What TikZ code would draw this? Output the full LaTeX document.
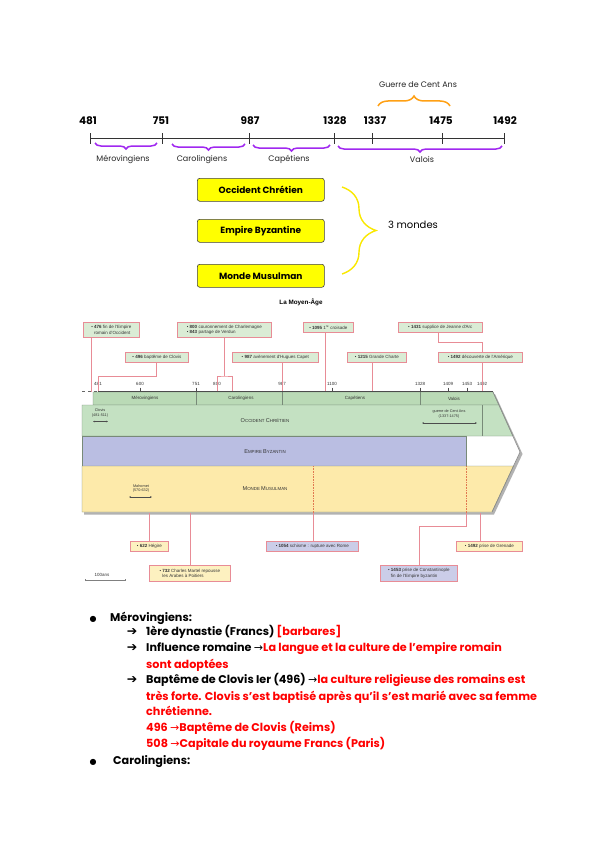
\documentclass[tikz,border=0pt]{standalone}
\usepackage{fontspec}
\setmainfont{Poppins}
\newfontfamily\arialf{Liberation Sans}
\newfontfamily\dejavu{DejaVu Sans}
\usetikzlibrary{decorations.pathreplacing,calc,arrows.meta}
\definecolor{purpleB}{RGB}{160,40,240}
\definecolor{orangeB}{RGB}{255,160,20}
\definecolor{yelB}{RGB}{255,255,0}
\definecolor{yelBr}{RGB}{250,232,0}
\definecolor{bandG}{RGB}{196,225,194}
\definecolor{rowG}{RGB}{186,218,182}
\definecolor{bandP}{RGB}{186,190,226}
\definecolor{bandY}{RGB}{253,234,170}
\definecolor{callG}{RGB}{218,236,213}
\definecolor{callP}{RGB}{203,205,232}
\definecolor{callY}{RGB}{253,241,192}
\definecolor{pinkL}{RGB}{232,140,150}
\definecolor{edgeG}{RGB}{120,138,120}
\definecolor{redT}{RGB}{255,0,0}
\definecolor{dotO}{RGB}{225,120,80}
\newcommand{\rd}[1]{\textcolor{redT}{#1}}
\newcommand{\scx}[2]{{\fontsize{5.6}{6}\selectfont #1}{\fontsize{4.4}{6}\selectfont #2}}
\newcommand{\tarr}{{\dejavu\mdseries\fontsize{11}{12}\selectfont →}}
\begin{document}
\begin{tikzpicture}[x=1pt,y=-1pt,
  datef/.style={font=\fontsize{10.5}{12}\selectfont\bfseries, inner sep=0pt},
  dynf/.style={font=\fontsize{8}{10}\selectfont, inner sep=0pt, text=black!85},
  ybox/.style={draw=black!75, fill=yelB, rounded corners=2.5pt, line width=0.6pt, minimum width=127pt, minimum height=23pt, font=\fontsize{9}{11}\selectfont\bfseries, inner sep=0pt, anchor=north west},
  pbrace/.style={draw=purpleB, line width=1.5pt, decorate, decoration={brace, mirror, amplitude=6pt}},
  obrace/.style={draw=orangeB, line width=1.5pt, decorate, decoration={brace, amplitude=10pt}},
  ybrace/.style={draw=yelBr, line width=1.4pt, decorate, decoration={brace, amplitude=34pt}},
  chf/.style={font=\arialf\fontsize{4.5}{5.2}\selectfont, inner sep=0pt, text=black!80},
  callout/.style={draw=pinkL, line width=0.7pt, inner sep=0.6pt, anchor=north west, font=\arialf\fontsize{4.5}{5.4}\selectfont, align=left, text=black!80},
  cg/.style={callout, fill=callG},
  cp/.style={callout, fill=callP},
  cy/.style={callout, fill=callY},
  pl/.style={draw=pinkL, line width=0.7pt},
  dl/.style={draw=dotO, line width=0.6pt, densely dotted},
  btxt/.style={anchor=base west, inner sep=0pt, font=\fontsize{11.2}{13}\selectfont\bfseries},
  barr/.style={anchor=base, inner sep=0pt, font=\dejavu\bfseries\fontsize{12.5}{13}\selectfont},
  bbul/.style={anchor=base, inner sep=0pt, font=\dejavu\fontsize{8}{9}\selectfont},
  >={Stealth[length=2pt,width=1.6pt]}
]
\useasboundingbox (0,0) rectangle (600,848);
\fill[white] (0,0) rectangle (600,848);

% ---------------- top timeline ----------------
\coordinate (t481) at (90,138);
\coordinate (t751) at (162,138);
\coordinate (t987) at (249,138);
\coordinate (t1328) at (334,138);
\coordinate (t1337) at (372,138);
\coordinate (t1475) at (442,138);
\coordinate (t1492) at (504,138);
\draw[line width=0.7pt, black!80] (t481) -- (t1492);
\foreach \c in {t481,t751,t987,t1328,t1337,t1475,t1492}
  \draw[line width=0.7pt, black!80] ($(\c)+(0,-5)$) -- ($(\c)+(0,6)$);
\node[datef] (d481) at (88,121) {481};
\node[datef] (d751) at (161,121) {751};
\node[datef] (d987) at (250,121) {987};
\node[datef] (d1328) at (335,121) {1328};
\node[datef] (d1337) at (375,121) {1337};
\node[datef] (d1475) at (441,121) {1475};
\node[datef] (d1492) at (505,121) {1492};

\draw[pbrace] (95,143) -- (157,143);
\draw[pbrace] (172,144) -- (245,144);
\draw[pbrace] (253,145) -- (330,145);
\draw[pbrace] (338,146) -- (502,146);
\node[dynf] (lmer) at (123,159.5) {Mérovingiens};
\node[dynf] (lcar) at (202,159.5) {Carolingiens};
\node[dynf] (lcap) at (289,159.5) {Capétiens};
\node[dynf] (lval) at (422,159.5) {Valois};

\draw[obrace] (378,106) -- (450,106);
\node[dynf] (gcent) at (418,85) {Guerre de Cent Ans};

% ---------------- yellow boxes ----------------
\node[ybox] (ocb) at (197,178) {Occident Chrétien};
\node[ybox] (byb) at (197,219) {Empire Byzantine};
\node[ybox] (mmb) at (197,264) {Monde Musulman};
\coordinate (ybr1) at (342,187);
\coordinate (ybr2) at (342,274);
\draw[ybrace] (ybr1) -- (ybr2);
\node[font=\fontsize{10}{12}\selectfont, inner sep=0pt] (trois) at (413,225) {3 mondes};

% ---------------- chart ----------------
\node[font=\arialf\bfseries\fontsize{6.3}{7}\selectfont, inner sep=0pt] (titre) at (301,302) {La Moyen-Âge};

% shadow + white chevron
\fill[black!30] (84,394) -- (495,394) -- (522.5,454) -- (494,514.5) -- (84,514.5) -- cycle;
\fill[white] (82,392) -- (493,392) -- (520,452) -- (492,512) -- (82,512) -- cycle;
% dynasty row
\filldraw[fill=rowG, draw=edgeG, line width=0.4pt] (93,392) -- (493,392) -- (499,405) -- (93,405) -- cycle;
\foreach \x in {196,282,420} \draw[edgeG, line width=0.4pt] (\x,392) -- (\x,405);
% occident
\filldraw[fill=bandG, draw=edgeG, line width=0.4pt] (82,405) -- (499,405) -- (513,436) -- (82,436) -- cycle;
\draw[edgeG, line width=0.4pt] (482,405) -- (482,436);
% byzantin
\filldraw[fill=bandP, draw=edgeG, line width=0.4pt] (82,436) rectangle (466,466);
\draw[black!40, densely dotted, line width=0.5pt] (466,466) -- (513.5,466);
% musulman
\filldraw[fill=bandY, draw=edgeG, line width=0.4pt] (82,466) -- (513.5,466) -- (492,512) -- (82,512) -- cycle;
% chevron outline
\draw[black!45, line width=0.6pt] (493,392) -- (520,452) -- (492,512);

% axis
\draw[black!70, line width=0.5pt] (98,391) -- (493,391);
\draw[black!60, line width=0.4pt, dashed] (82,391) -- (98,391);
\foreach \x/\t in {98/481,140/600,196/751,217/800,282/987,332/1100,420/1328,448/1409,467/1453,482/1492}{
  \draw[black!70, line width=0.4pt] (\x,387.5) -- (\x,391);
  \node[chf] at (\x,384) {\t};
}
% dynasty labels
\node[chf] (rmer) at (145,398.5) {Mérovingiens};
\node[chf] (rcar) at (241,398.5) {Carolingiens};
\node[chf] (rcap) at (355,398.5) {Capétiens};
\node[chf] (rval) at (454,398.5) {Valois};

% band labels
\node[chf] (locc) at (265,421) {\scx{O}{CCIDENT} \scx{C}{HRÉTIEN}};
\node[chf] (lbyz) at (265,452) {\scx{E}{MPIRE} \scx{B}{YZANTIN}};
\node[chf] (lmus) at (265,489) {\scx{M}{ONDE} \scx{M}{USULMAN}};

\node[chf, align=center, font=\arialf\fontsize{3.8}{4.4}\selectfont] (clv) at (100,413) {Clovis\\(481-511)};
\coordinate (clv1) at (93,421.5); \coordinate (clv2) at (108,421.5);
\draw[<->, black!70, line width=0.35pt] (clv1) -- (clv2);
\node[chf, align=center, font=\arialf\fontsize{3.8}{4.4}\selectfont] (gca) at (449,414) {guerre de Cent Ans\\(1337-1475)};
\coordinate (gca1) at (422,423); \coordinate (gca2) at (477,423);
\draw[<->, black!70, line width=0.35pt] (gca1) -- (gca2);
\node[chf, align=center, font=\arialf\fontsize{3.8}{4.4}\selectfont] (mah) at (141,488.5) {Mahomet\\(570-632)};
\coordinate (mah1) at (129,497); \coordinate (mah2) at (152,497);
\draw[<->, black!70, line width=0.35pt] (mah1) -- (mah2);

% top callouts
\node[cg, minimum width=56pt, minimum height=15pt] (cA) at (83,322) {• \textbf{476} fin de l'Empire\\\phantom{• }romain d'Occident};
\node[cg, minimum width=94pt, minimum height=15pt] (cB) at (177,322) {• \textbf{800} couronnement de Charlemagne\\• \textbf{843} partage de Verdun};
\node[cg, minimum width=63pt, minimum height=10pt] (cC) at (125,352) {• \textbf{496} baptême de Clovis};
\node[cg, minimum width=86pt, minimum height=10pt] (cD) at (232,352) {• \textbf{987} avènement d'Hugues Capet};
\node[cg, minimum width=50pt, minimum height=10pt] (cE) at (303,322) {• \textbf{1095} 1\textsuperscript{re} croisade};
\node[cg, minimum width=59pt, minimum height=10pt] (cF) at (347,352) {• \textbf{1215} Grande Charte};
\node[cg, minimum width=84pt, minimum height=10pt] (cG) at (398,322) {• \textbf{1431} supplice de Jeanne d'Arc};
\node[cg, minimum width=84pt, minimum height=10pt] (cH) at (438,352) {• \textbf{1492} découverte de l'Amérique};

\coordinate (p476) at (91,392);
\coordinate (p481) at (98,391);
\coordinate (p800) at (217,391);
\coordinate (p843) at (232,391);
\coordinate (p987) at (282,391);
\coordinate (p1095) at (325,391);
\coordinate (p1215) at (372,391);
\coordinate (p1492) at (482,391);
\coordinate (jB) at (224,376);
\coordinate (jC) at (156,376);
\coordinate (jG) at (438,342);
\draw[pl] (cA.south -| p476) -- (p476);
\draw[pl] (cB.south -| jB) -- (jB);
\draw[pl] (p800) |- (jB) -| (p843);
\draw[pl] (cC.south -| jC) -- (jC) -| (p481);
\draw[pl] (cD.south -| p987) -- (p987);
\draw[pl] (cE.south -| p1095) -- (p1095);
\draw[pl] (cF.south -| p1215) -- (p1215);
\draw[pl] (cG.south -| jG) -- (jG) -| (cH.north -| p1492);
\draw[pl] (cH.south -| p1492) -- (p1492);

% bottom callouts
\node[cy, minimum width=38pt, minimum height=10pt] (cI) at (130,541) {• \textbf{622} Hégire};
\node[cy, minimum width=81pt, minimum height=16pt] (cJ) at (149,565) {• \textbf{732} Charles Martel repousse\\\phantom{• }les Arabes à Poitiers};
\node[cp, minimum width=92pt, minimum height=9.5pt] (cK) at (266,541) {• \textbf{1054} schisme : rupture avec Rome};
\node[cp, minimum width=77pt, minimum height=16pt] (cL) at (380,565) {• \textbf{1453} prise de Constantinople\\\phantom{• }fin de l'Empire byzantin};
\node[cy, minimum width=66pt, minimum height=10pt] (cM) at (456,541) {• \textbf{1492} prise de Grenade};

\coordinate (q622) at (149,512.5);
\coordinate (q732) at (190,512.5);
\coordinate (q1054) at (313,466);
\coordinate (q1054b) at (313,512.5);
\coordinate (q1453) at (466,466);
\coordinate (q1453b) at (466,512.5);
\coordinate (jL) at (419,526);
\coordinate (q1492) at (480,513);
\draw[pl] (q622) -- (cI.north -| q622);
\draw[pl] (q732) -- (cJ.north -| q732);
\draw[dl] (q1054) -- (q1054b);
\draw[pl] (q1054b) -- (cK.north -| q1054b);
\draw[dl] (q1453) -- (q1453b);
\draw[pl] (q1453b) |- (jL) -- (cL.north -| jL);
\draw[pl] (q1492) -- (cM.north -| q1492);

% scale
\node[chf] (cent) at (102,575) {100ans};
\coordinate (sc1) at (85,580); \coordinate (sc2) at (125,580);
\draw[black!50, line width=0.35pt, {|[width=2pt]}-{|[width=2pt]}] (sc1) -- (sc2);

% ---------------- bottom text ----------------
\node[bbul] (bul1) at (93,621.5) {●};
\node[btxt] (x1) at (110,621.5) {Mérovingiens:};
\node[barr] (ar1) at (132,635.5) {➔};
\node[btxt] (x2) at (146,635.5) {1ère dynastie (Francs) \rd{[barbares]}};
\node[barr] (ar2) at (132,651.5) {➔};
\node[btxt] (x3) at (146,651.5) {Influence romaine \tarr\rd{La langue et la culture de l'empire romain}};
\node[btxt] (x4) at (146,668.5) {\rd{sont adoptées}};
\node[barr] (ar3) at (132,683.5) {➔};
\node[btxt] (x5) at (146,683.5) {Baptême de Clovis Ier (496) \tarr\rd{la culture religieuse des romains est}};
\node[btxt] (x6) at (146,700) {\rd{très forte. Clovis s'est baptisé après qu'il s'est marié avec sa femme}};
\node[btxt] (x7) at (146,715.5) {\rd{chrétienne.}};
\node[btxt] (x8) at (146,731.5) {\rd{496 \tarr Baptême de Clovis (Reims)}};
\node[btxt] (x9) at (146,747.5) {\rd{508 \tarr Capitale du royaume Francs (Paris)}};
\node[bbul] (bul2) at (93,764) {●};
\node[btxt] (x10) at (113,764) {Carolingiens:};
\end{tikzpicture}
\end{document}
